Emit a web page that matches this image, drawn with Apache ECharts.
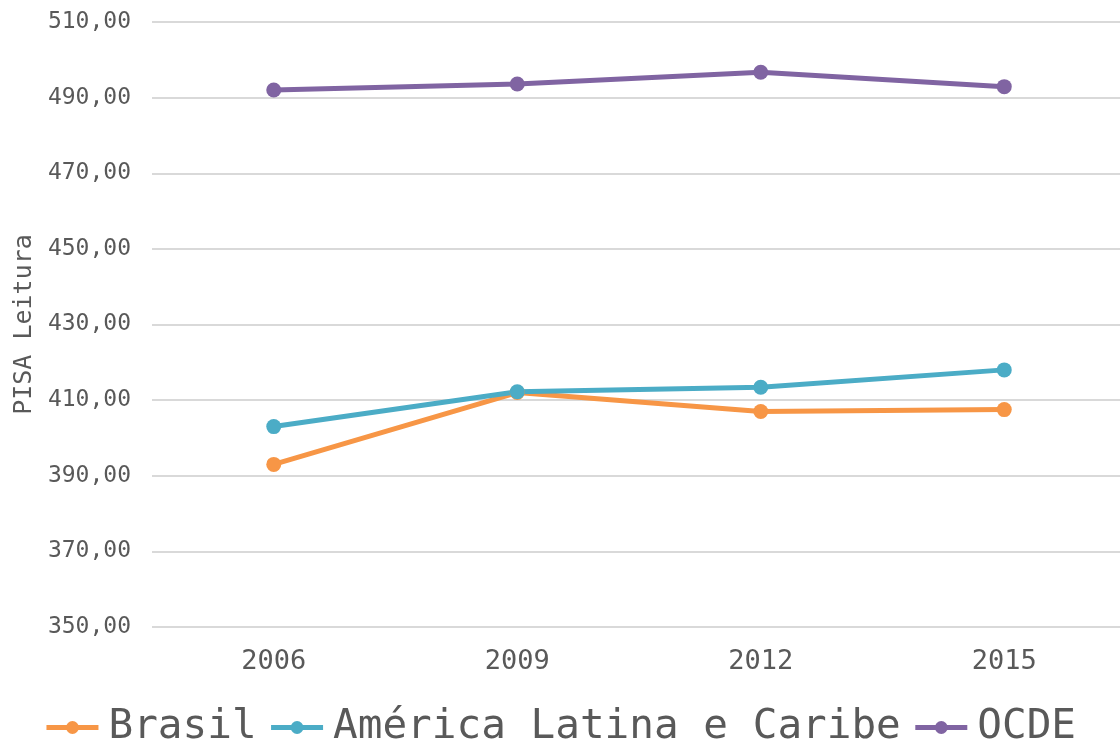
<!DOCTYPE html>
<html>
<head>
<meta charset="utf-8">
<script src="https://cdn.jsdelivr.net/npm/echarts@6/dist/echarts.min.js"></script>
<style>
  html, body { margin: 0; padding: 0; background: #fff; }
  #chart { width: 1120px; height: 739px; }
</style>
</head>
<body>
<div id="chart"></div>
<script>
const FONT = '"DejaVu Sans Mono", "Liberation Mono", monospace'

const years = ['2006', '2009', '2012', '2015']
const brasil = [393, 412, 407, 407.5]
const americaLatina = [403, 412.2, 413.4, 418]
const ocde = [492, 493.6, 496.7, 492.9]

const chart = echarts.init(document.getElementById('chart'))

const mkSeries = (name, data, color) => ({
  name,
  type: 'line',
  data,
  symbol: 'circle',
  symbolSize: 15,
  lineStyle: { width: 5, color },
  itemStyle: { color },
})

chart.setOption({
  animation: false,
  textStyle: { fontFamily: FONT },
  grid: { left: 152, width: 974, top: 22, bottom: 112, outerBoundsMode: 'none', containLabel: false },
  legend: {
    bottom: -14,
    left: 'center',
    itemWidth: 52,
    itemHeight: 16,
    itemGap: 12,
    lineStyle: { width: 5 },
    textStyle: { fontSize: 41, color: '#595959', fontFamily: FONT, padding: [0, 0, 0, 5] },
    data: ['Brasil', 'América Latina e Caribe', 'OCDE'],
  },
  xAxis: {
    type: 'category',
    data: years,
    axisLine: { show: false },
    axisTick: { show: false },
    axisLabel: { fontSize: 27, color: '#595959', margin: 21 },
  },
  yAxis: {
    type: 'value',
    min: 350,
    max: 510,
    interval: 20,
    name: 'PISA Leitura',
    nameLocation: 'middle',
    nameGap: 112,
    nameTextStyle: { fontSize: 25, color: '#595959' },
    axisLabel: {
      fontSize: 23,
      color: '#595959',
      margin: 21,
      formatter: (v) => v.toFixed(2).replace('.', ','),
    },
    splitLine: { lineStyle: { color: '#d9d9d9', width: 2 } },
  },
  series: [
    mkSeries('Brasil', brasil, '#f79646'),
    mkSeries('América Latina e Caribe', americaLatina, '#4bacc6'),
    mkSeries('OCDE', ocde, '#8064a2'),
  ],
})
</script>
</body>
</html>
